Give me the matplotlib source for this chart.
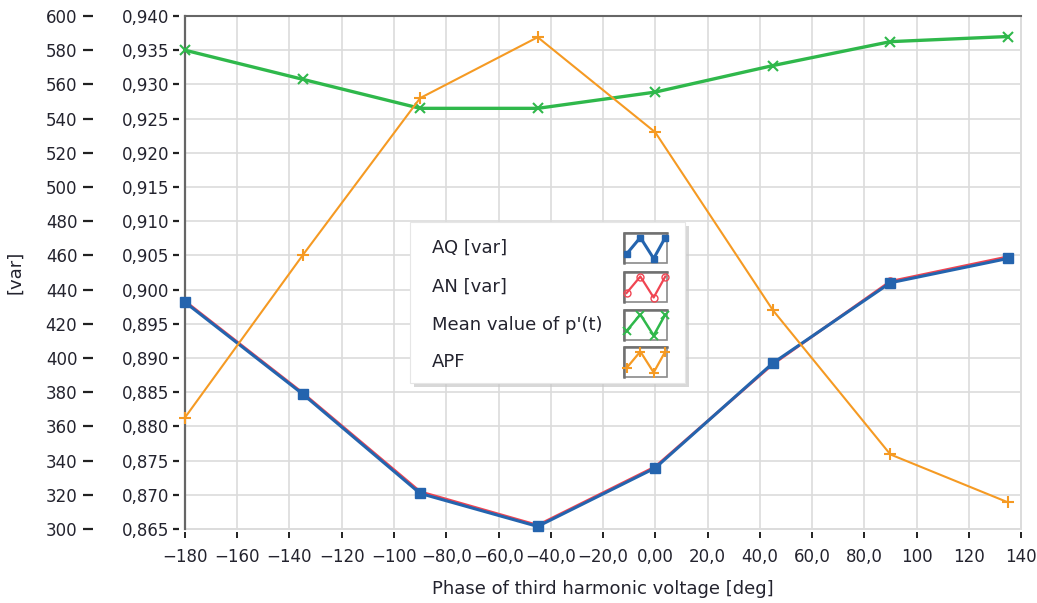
import matplotlib
matplotlib.use("Agg")
import matplotlib.pyplot as plt
from matplotlib.lines import Line2D
from matplotlib.patches import Rectangle

# ---------------- data ----------------
phase = [-180, -135, -90, -45, 0, 45, 90, 135]
aq_var = [432.6, 379.0, 320.8, 301.5, 335.7, 397.0, 444.0, 458.2]
an_var = [433.2, 379.6, 321.8, 302.2, 336.4, 396.4, 444.8, 459.2]
mean_p = [580.0, 563.0, 546.0, 546.0, 555.5, 571.0, 585.0, 588.0]
apf = [0.8813, 0.9050, 0.9280, 0.9369, 0.9230, 0.8970, 0.8759, 0.8689]

x_ticks = [-180, -160, -140, -120, -100, -80, -60, -40, -20, 0, 20, 40, 60, 80, 100, 120, 140]
x_tick_labels = ["\u2212180", "\u2212160", "\u2212140", "\u2212120", "\u2212100", "\u221280,0",
                 "\u221260,0", "\u221240,0", "\u221220,0", "0,00", "20,0", "40,0", "60,0",
                 "80,0", "100", "120", "140"]
var_ticks = list(range(300, 620, 20))
apf_ticks = [0.865, 0.870, 0.875, 0.880, 0.885, 0.890, 0.895, 0.900, 0.905,
             0.910, 0.915, 0.920, 0.925, 0.930, 0.935, 0.940]
apf_tick_labels = ["0,865", "0,870", "0,875", "0,880", "0,885", "0,890", "0,895", "0,900",
                   "0,905", "0,910", "0,915", "0,920", "0,925", "0,930", "0,935", "0,940"]
legend_labels = ["AQ [var]", "AN [var]", "Mean value of p'(t)", "APF"]

# ---------------- style ----------------
W, H = 1037, 603
plt.rcParams['font.family'] = ['DejaVu Sans']
plt.rcParams['font.size'] = 12
TXT = '#23232e'
GRID = '#dcdcdc'
C_AQ = '#2464ae'
C_AN = '#f04552'
C_MP = '#2fb84b'
C_APF = '#f59a23'

fig = plt.figure(figsize=(W / 100, H / 100), dpi=100)
ax = fig.add_axes([185 / W, 1 - 529 / H, (1021 - 185) / W, (529 - 16) / H])
ax2 = ax.twinx()

# main axis (var)
ax.set_xlim(-180, 140)
ax.set_ylim(300, 600)
ax.set_xticks(x_ticks)
ax.set_xticklabels(x_tick_labels)
ax.set_yticks(var_ticks)
ax.set_yticklabels([str(v) for v in var_ticks])
ax.grid(True, color=GRID, linewidth=1.2, zorder=0)
ax.set_axisbelow(True)
ax.axhline(300, color=GRID, linewidth=1.4, zorder=0.5)
ax.axvline(140, color=GRID, linewidth=1.4, zorder=0.5)

for s in ['right', 'bottom']:
    ax.spines[s].set_color('none')
ax.spines['bottom'].set_position(('outward', 2.5))
ax.spines['left'].set_position(('outward', 66.5))
ax.spines['left'].set_color('none')
ax.spines['top'].set_color('#666666')
ax.spines['top'].set_linewidth(1.5)
ax.tick_params(axis='y', direction='out', length=7.5, width=1.6, color='#222222',
               pad=3.5, labelcolor=TXT, labelsize=12)
ax.tick_params(axis='x', direction='out', length=4, width=1.4, color='#222222',
               pad=7, labelcolor=TXT, labelsize=12)
ax.set_xlabel("Phase of third harmonic voltage [deg]", color=TXT, fontsize=13, labelpad=10)
ax.set_ylabel("[var]", color=TXT, fontsize=13)
ax.yaxis.set_label_coords(-(185 - 24) / (1021 - 185), 0.5)

# frame left line
ax.add_line(Line2D([0, 0], [0, 1], transform=ax.transAxes, color='#666666',
                   linewidth=1.6, clip_on=False, zorder=3))

# APF axis on the left, inner
ax2.set_ylim(0.865, 0.940)
ax2.yaxis.set_ticks_position('left')
ax2.yaxis.set_label_position('left')
ax2.set_yticks(apf_ticks)
ax2.set_yticklabels(apf_tick_labels)
for s in ['right', 'top', 'bottom']:
    ax2.spines[s].set_color('none')
ax2.spines['left'].set_position(('outward', 4))
ax2.spines['left'].set_color('none')
ax2.tick_params(axis='y', direction='out', length=4, width=1.6, color='#222222',
                pad=3, labelcolor=TXT, labelsize=12, left=True, right=False,
                labelleft=True, labelright=False)

# ---------------- series ----------------
ax2.plot(phase, apf, color=C_APF, linewidth=1.5, marker='+', markersize=8,
         markeredgewidth=1.5, zorder=2)
ax.plot(phase, mean_p, color=C_MP, linewidth=2.4, marker='x', markersize=7,
        markeredgewidth=1.5, zorder=3)
ax.plot(phase, an_var, color=C_AN, linewidth=2.0, marker='o', markersize=5,
        markerfacecolor='none', markeredgewidth=1.2, zorder=3)
ax.plot(phase, aq_var, color=C_AQ, linewidth=2.2, marker='s', markersize=6.5,
        zorder=4)
for a in (ax, ax2):
    for l in a.lines:
        l.set_clip_on(False)
ax2.set_zorder(ax.get_zorder() + 1)
ax2.patch.set_visible(False)

# ---------------- legend box ----------------
def fx(px):
    return px / W

def fy(py):
    return 1 - py / H

x0, x1, y0, y1 = 410, 685, 222, 383
fig.patches.append(Rectangle((fx(x0 + 4), fy(y1 + 4)), fx(x1 - x0), (y1 - y0) / H,
                             transform=fig.transFigure, facecolor='#c8c8c8',
                             edgecolor='none', alpha=0.7, zorder=9))
fig.patches.append(Rectangle((fx(x0), fy(y1)), fx(x1 - x0), (y1 - y0) / H,
                             transform=fig.transFigure, facecolor='white',
                             edgecolor='#e6e6e6', linewidth=0.8, zorder=10))

rows = [248, 287, 325, 362]
styles = [
    dict(color=C_AQ, marker='s', markersize=5, linewidth=2.2),
    dict(color=C_AN, marker='o', markersize=5, markerfacecolor='none', linewidth=1.6),
    dict(color=C_MP, marker='x', markersize=6, markeredgewidth=1.4, linewidth=1.8),
    dict(color=C_APF, marker='+', markersize=7, markeredgewidth=1.5, linewidth=1.6),
]
hx0, hx1 = 624, 667
zz_x = [0.06, 0.38, 0.69, 0.96]
zz_y = [0.30, 0.85, 0.15, 0.85]
for lab, ry, st in zip(legend_labels, rows, styles):
    fig.text(fx(432), fy(ry), lab, ha='left', va='center', color=TXT, fontsize=13,
             zorder=11)
    hy0, hy1 = ry + 15, ry - 15
    fig.patches.append(Rectangle((fx(hx0), fy(hy0)), fx(hx1 - hx0), (hy0 - hy1) / H,
                                 transform=fig.transFigure, facecolor='white',
                                 edgecolor='#8a8a8a', linewidth=1.2, zorder=11))
    # darker top/left inset border
    fig.lines.append(Line2D([fx(hx0), fx(hx0), fx(hx1)], [fy(hy0), fy(hy1), fy(hy1)],
                            transform=fig.transFigure, color='#707070', linewidth=1.8,
                            zorder=11.5))
    xs = [fx(hx0 + t * (hx1 - hx0)) for t in zz_x]
    ys = [fy(hy0 - t * (hy0 - hy1)) for t in zz_y]
    fig.lines.append(Line2D(xs, ys, transform=fig.transFigure, zorder=12, **st))

fig.savefig("out.png", dpi=100)
